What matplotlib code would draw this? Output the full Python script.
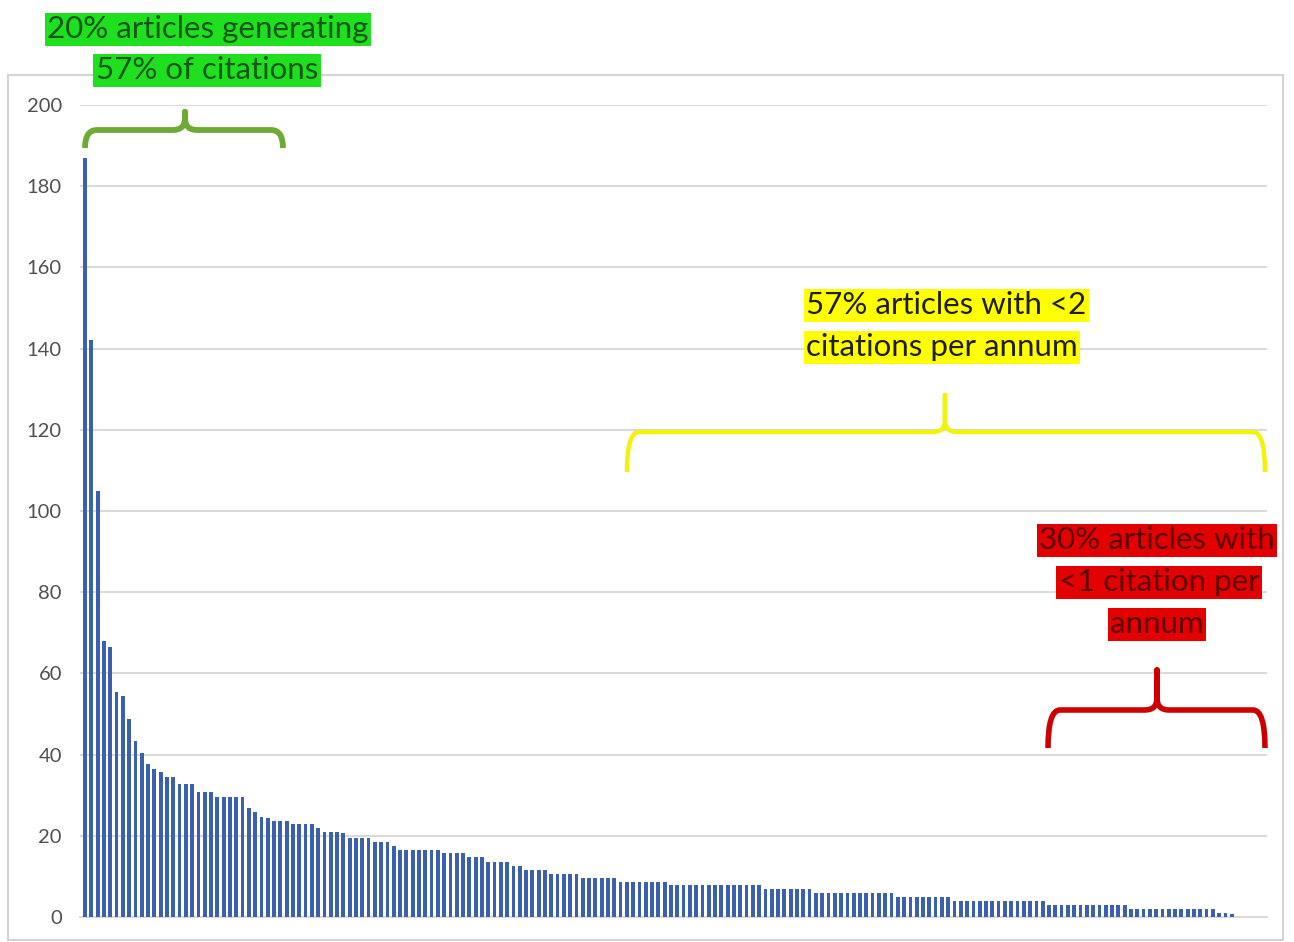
import matplotlib
matplotlib.use("Agg")
import matplotlib.pyplot as plt
from matplotlib.path import Path
from matplotlib.patches import PathPatch, Rectangle
import numpy as np

# ---- data ----
citations = [
    187, 142, 105, 68, 66.5, 55.5, 54.5, 48.7, 43.4, 40.3,
    37.7, 36.5, 35.6, 34.5, 34.5, 32.8, 32.8, 32.8, 30.9, 30.9,
    30.9, 29.6, 29.6, 29.6, 29.6, 29.6, 26.8, 25.9, 24.6, 24.5,
    23.6, 23.6, 23.6, 22.8, 22.8, 22.8, 22.8, 21.9, 21.0, 21.0,
    21.0, 20.7, 19.5, 19.5, 19.5, 19.5, 18.5, 18.5, 18.5, 17.5,
    16.6, 16.6, 16.6, 16.6, 16.6, 16.6, 16.6, 15.8, 15.8, 15.8,
    15.8, 14.9, 14.9, 14.9, 13.5, 13.5, 13.5, 13.5, 12.5, 12.5,
    11.6, 11.6, 11.6, 11.6, 10.7, 10.7, 10.7, 10.7, 10.7, 9.7,
    9.7, 9.7, 9.7, 9.7, 9.7, 8.7, 8.7, 8.7, 8.7, 8.7,
    8.7, 8.7, 8.7, 7.8, 7.8, 7.8, 7.8, 7.8, 7.8, 7.8,
    7.8, 7.8, 7.8, 7.8, 7.8, 7.8, 7.8, 7.8, 6.9, 6.9,
    6.9, 6.9, 6.9, 6.9, 6.9, 6.9, 5.9, 5.9, 5.9, 5.9,
    5.9, 5.9, 5.9, 5.9, 5.9, 5.9, 5.9, 5.9, 5.9, 5.0,
    5.0, 5.0, 5.0, 5.0, 5.0, 5.0, 5.0, 5.0, 4.0, 4.0,
    4.0, 4.0, 4.0, 4.0, 4.0, 4.0, 4.0, 4.0, 4.0, 4.0,
    4.0, 4.0, 4.0, 3.0, 3.0, 3.0, 3.0, 3.0, 3.0, 3.0,
    3.0, 3.0, 3.0, 3.0, 3.0, 3.0, 2.0, 2.0, 2.0, 2.0,
    2.0, 2.0, 2.0, 2.0, 2.0, 2.0, 2.0, 2.0, 2.0, 2.0,
    1.0, 1.0, 0.8,
]
y_ticks = [0, 20, 40, 60, 80, 100, 120, 140, 160, 180, 200]

green_lines = ["20% articles generating", "57% of citations"]
yellow_lines = ["57% articles with <2", "citations per annum"]
red_lines = ["30% articles with", "<1 citation per", "annum"]

# ---- figure ----
W, H = 1294, 942
fig = plt.figure(figsize=(W / 100, H / 100), dpi=100)
FONT = ["Lato", "DejaVu Sans"]


def fx(x):
    return x / W


def fy(y):
    return 1 - y / H


ax = fig.add_axes([fx(80), fy(917), fx(1267) - fx(80), fy(105) - fy(917)])
x = np.arange(len(citations))
ax.bar(x, citations, width=0.6, color="#3B60B0", zorder=3)
ax.set_xlim(-0.8, len(citations) + 4.6)
ax.set_ylim(0, 200)
ax.set_yticks(y_ticks)
ax.set_yticklabels([str(t) for t in y_ticks], fontfamily=FONT, fontsize=14.5, color="#505050")
ax.tick_params(axis="y", length=0, pad=13)
ax.set_xticks([])
ax.grid(axis="y", color="#D9D9D9", linewidth=1.4, zorder=0)
for s in ["top", "left", "right"]:
    ax.spines[s].set_visible(False)
ax.spines["bottom"].set_color("#D9D9D9")
ax.spines["bottom"].set_linewidth(1.4)
ax.set_facecolor("none")

# chart border
fig.patches.append(Rectangle((fx(8), fy(940)), fx(1283) - fx(8), fy(75) - fy(940),
                             transform=fig.transFigure, fill=False,
                             edgecolor="#D4D4D4", linewidth=1.5, zorder=-1))


def bracket(x0, x1, yh, yb, xc, yt, color, lw, r=12):
    verts = [
        (x0, yb), (x0, yh), (x0 + r, yh),
        (xc - r, yh), (xc, yh), (xc, yh - r),
        (xc, yt), (xc, yh - r), (xc, yh), (xc + r, yh),
        (x1 - r, yh), (x1, yh), (x1, yb),
    ]
    codes = [Path.MOVETO, Path.CURVE3, Path.CURVE3,
             Path.LINETO, Path.CURVE3, Path.CURVE3,
             Path.LINETO, Path.LINETO, Path.CURVE3, Path.CURVE3,
             Path.LINETO, Path.CURVE3, Path.CURVE3]
    v = [(fx(a), fy(b)) for a, b in verts]
    p = PathPatch(Path(v, codes), transform=fig.transFigure, fill=False,
                  edgecolor=color, linewidth=lw, capstyle="butt", joinstyle="round", zorder=5)
    fig.patches.append(p)


bracket(85, 283, 130, 148, 185, 112, "#6FAA35", 4.2)
bracket(627, 1265, 432, 472, 945, 395, "#F2F20C", 3.2)
bracket(1048, 1265, 710, 748, 1157, 670, "#CC0000", 4.0)


def label(txt, x, y, ha, fc, tc):
    fig.text(fx(x), fy(y), txt, ha=ha, va="center", fontsize=22.5, fontfamily=FONT,
             color=tc, zorder=6,
             bbox=dict(boxstyle="square,pad=0.08", facecolor=fc, edgecolor="none"))


label(green_lines[0], 208, 29, "center", "#1EE01E", "#16561A")
label(green_lines[1], 207, 70, "center", "#1EE01E", "#16561A")
label(yellow_lines[0], 806, 305, "left", "#FFFF00", "#1E1E10")
label(yellow_lines[1], 806, 347, "left", "#FFFF00", "#1E1E10")
label(red_lines[0], 1157, 540, "center", "#E20000", "#5C0000")
label(red_lines[1], 1159, 582, "center", "#E20000", "#5C0000")
label(red_lines[2], 1157, 624, "center", "#E20000", "#5C0000")

fig.savefig("out.png", dpi=100)
